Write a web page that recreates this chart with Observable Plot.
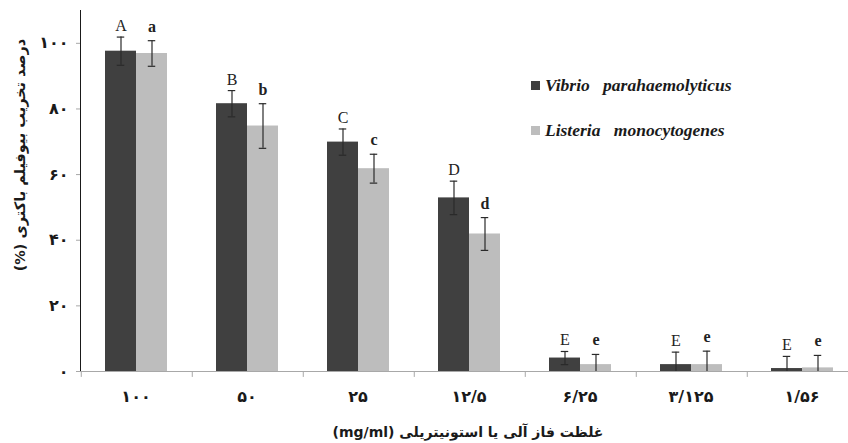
<!DOCTYPE html>
<html><head><meta charset="utf-8">
<script src="https://cdn.jsdelivr.net/npm/d3@7"></script>
<script src="https://cdn.jsdelivr.net/npm/@observablehq/plot@0.6"></script>
<style>
body{margin:0;background:#fff;}
#wrap{position:relative;width:848px;height:443px;overflow:hidden;background:#fff;}
#wrap svg g[aria-label^="y-axis"] path, #wrap svg g[aria-label^="y-axis"] line{stroke:#a8a8a8;}
#wrap svg g[aria-label^="y-axis"] text{font-size:16px !important;}
#wrap svg g[aria-label^="fx-axis"] text{font-size:16px;}
.ytitle{position:absolute;left:20px;top:155px;transform:translate(-50%,-50%) rotate(-90deg);white-space:nowrap;direction:rtl;font:bold 14.5px 'DejaVu Sans',sans-serif;color:#1a1a1a;}
.xtitle{position:absolute;left:468px;top:432px;transform:translate(-50%,-50%);white-space:nowrap;direction:rtl;font:bold 14px 'DejaVu Sans',sans-serif;color:#1a1a1a;}
.legend{position:absolute;left:531px;top:73px;font:italic bold 17.5px 'Liberation Serif',serif;color:#1a1a1a;}
.legend .row{display:flex;align-items:center;height:24px;margin-bottom:21px;word-spacing:9px;}
.legend .sw{width:9px;height:9px;margin-right:5px;}
</style></head><body><div id="wrap"></div><script>
const categories = ["۱۰۰","۵۰","۲۵","۱۲/۵","۶/۲۵","۳/۱۲۵","۱/۵۶"];
const series = ["Vibrio parahaemolyticus","Listeria monocytogenes"];
const colors = ["#404040","#bdbdbd"];
const vibrio = [97.6, 81.6, 69.9, 52.9, 4.1, 2.1, 0.9];
const vibrioErr = [4.3, 4.0, 4.0, 5.1, 2.0, 3.8, 3.7];
const vibrioLetters = ["A","B","C","D","E","E","E"];
const listeria = [96.9, 74.8, 61.8, 41.9, 2.1, 2.1, 1.1];
const listeriaErr = [3.9, 6.8, 4.4, 5.0, 3.1, 4.1, 3.8];
const listeriaLetters = ["a","b","c","d","e","e","e"];
const yTicks = [0, 20, 40, 60, 80, 100];
const yTickLabels = ["۰","۲۰","۴۰","۶۰","۸۰","۱۰۰"];
const yTitle = "درصد تخریب بیوفیلم باکتری (%)";
const xTitle = "غلظت فاز آلی یا استونیتریلی (mg/ml)";

const rows = [];
categories.forEach((c, i) => {
  rows.push({cat: c, series: series[0], value: vibrio[i], err: vibrioErr[i], letter: vibrioLetters[i]});
  rows.push({cat: c, series: series[1], value: listeria[i], err: listeriaErr[i], letter: listeriaLetters[i]});
});

const fxLeft = 80, fxRight = 857, padOuter = 0.76;
const bw = (fxRight - fxLeft) / categories.length;
const step = bw / (series.length + 2 * padOuter);
const edgeDx = -(padOuter * step + step / 2);
const capInset = (step - 8) / 2;
const errColor = "#2a2a2a";

const plot = Plot.plot({
  width: 848, height: 443,
  marginLeft: 80, marginRight: 0, marginTop: 10, marginBottom: 72,
  style: {fontFamily: "'DejaVu Sans', sans-serif", fontSize: "13px", fontWeight: "bold", color: "#1a1a1a", background: "#fff"},
  facet: {data: rows, x: "cat"},
  fx: {domain: categories, range: [fxLeft, fxRight], padding: 0, axis: "bottom", label: null, tickSize: 0, tickPadding: 19},
  x: {domain: series, paddingInner: 0, paddingOuter: padOuter, axis: null},
  y: {domain: [0, 110], ticks: yTicks, tickFormat: (d, i) => yTickLabels[yTicks.indexOf(d)], tickSize: 4, tickPadding: 8, line: true, label: null},
  color: {domain: series, range: colors},
  marks: [
    Plot.barY(rows, {x: "series", y: "value", fill: "series"}),
    Plot.ruleY([0], {stroke: "#a8a8a8"}),
    Plot.ruleX([series[0]], {x: d => d, y1: 0, y2: -1.8, dx: edgeDx, stroke: "#a8a8a8"}),
    Plot.ruleX(rows, {x: "series", y1: d => Math.max(0, d.value - d.err), y2: d => d.value + d.err, stroke: errColor, strokeWidth: 1.2}),
    Plot.tickY(rows, {x: "series", y: d => d.value + d.err, stroke: errColor, strokeWidth: 1.2, insetLeft: capInset, insetRight: capInset}),
    Plot.tickY(rows, {filter: d => d.value - d.err > 0, x: "series", y: d => d.value - d.err, stroke: errColor, strokeWidth: 1.2, insetLeft: capInset, insetRight: capInset}),
    Plot.text(rows, {filter: d => d.series === series[0], x: "series", y: d => d.value + d.err, text: "letter", dy: -6, lineAnchor: "bottom", fontFamily: "'Liberation Serif', serif", fontSize: 16, fontWeight: "normal", fill: "#222"}),
    Plot.text(rows, {filter: d => d.series === series[1], x: "series", y: d => d.value + d.err, text: "letter", dy: -9, lineAnchor: "bottom", fontFamily: "'Liberation Serif', serif", fontSize: 16, fontWeight: "bold", fill: "#222"})
  ]
});

const wrap = document.getElementById("wrap");
wrap.appendChild(plot);

const yt = document.createElement("div");
yt.className = "ytitle"; yt.textContent = yTitle; wrap.appendChild(yt);
const xt = document.createElement("div");
xt.className = "xtitle"; xt.textContent = xTitle; wrap.appendChild(xt);

const lg = document.createElement("div");
lg.className = "legend";
series.forEach((s, i) => {
  const r = document.createElement("div"); r.className = "row";
  const sw = document.createElement("span"); sw.className = "sw"; sw.style.background = colors[i];
  const t = document.createElement("span"); t.textContent = s;
  r.appendChild(sw); r.appendChild(t); lg.appendChild(r);
});
wrap.appendChild(lg);
</script></body></html>
